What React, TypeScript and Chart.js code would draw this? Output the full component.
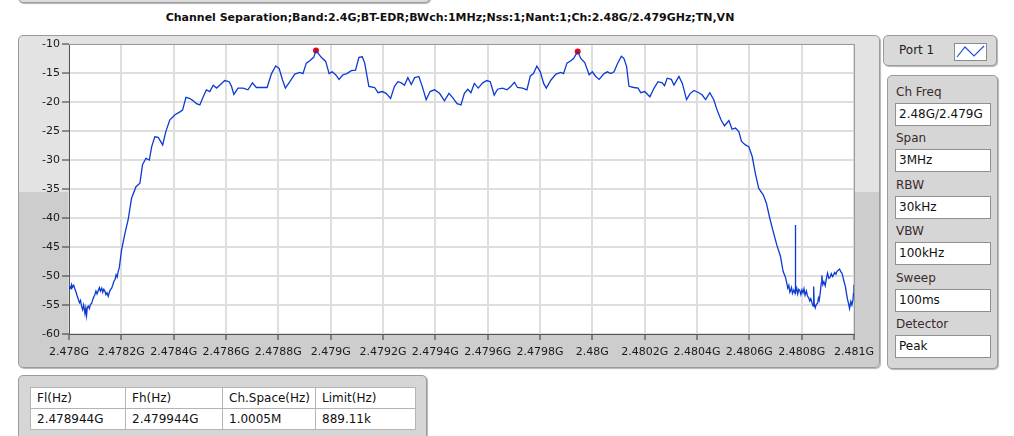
import React, { useEffect, useRef } from 'react';
import { Chart, registerables } from 'chart.js';

Chart.register(...registerables);

const chartTitle = 'Channel Separation;Band:2.4G;BT-EDR;BWch:1MHz;Nss:1;Nant:1;Ch:2.48G/2.479GHz;TN,VN';

// x axis: frequency offset from 2.478 GHz, in kHz
const xTickValues = [0, 200, 400, 600, 800, 1000, 1200, 1400, 1600, 1800, 2000, 2200, 2400, 2600, 2800, 3000];
const xTickLabels = ['2.478G', '2.4782G', '2.4784G', '2.4786G', '2.4788G', '2.479G', '2.4792G', '2.4794G', '2.4796G', '2.4798G', '2.48G', '2.4802G', '2.4804G', '2.4806G', '2.4808G', '2.481G'];
const yMin = -60;
const yMax = -10;
const yStep = 5;

const freqKHz = [
  0, 4, 8, 10, 14, 18, 23, 27, 31, 36, 40, 44, 48, 52, 56, 61, 64, 67, 70, 74, 78, 82, 87, 91, 95, 99,
  103, 107, 112, 116, 120, 125, 129, 133, 137, 141, 145, 150, 154, 158, 163, 167, 171, 176, 180, 184, 188, 192, 196,
  201, 214, 226, 239, 256, 271, 281, 294, 307, 316, 328, 341, 358, 370, 385, 405, 424, 434, 447, 462, 475, 487,
  500, 513, 525, 538, 551, 564, 576, 595, 612, 621, 630, 646, 665, 684, 701, 716, 735, 757, 774, 790, 803, 816,
  827, 844, 863, 882, 894, 907, 920, 935, 944, 964, 981, 994, 1006, 1019, 1032, 1047, 1062, 1079, 1095, 1108,
  1121, 1130, 1146, 1168, 1181, 1197, 1212, 1229, 1244, 1257, 1270, 1282, 1295, 1308, 1321, 1337, 1350, 1365,
  1380, 1397, 1416, 1435, 1452, 1467, 1483, 1498, 1511, 1524, 1536, 1549, 1564, 1581, 1597, 1610, 1625, 1638,
  1657, 1674, 1689, 1702, 1714, 1733, 1750, 1763, 1775, 1788, 1801, 1814, 1824, 1842, 1861, 1880, 1890, 1903,
  1918, 1928, 1944, 1956, 1971, 1988, 2000, 2013, 2026, 2045, 2058, 2070, 2083, 2096, 2111, 2121, 2131, 2140,
  2159, 2175, 2185, 2200, 2220, 2236, 2251, 2267, 2276, 2286, 2302, 2312, 2331, 2344, 2360, 2373, 2388, 2407,
  2420, 2433, 2449, 2464, 2477, 2492, 2505, 2522, 2534, 2547, 2560, 2570, 2585, 2598, 2611, 2623, 2636, 2653,
  2665, 2678, 2691, 2706, 2719, 2729, 2738, 2742, 2747, 2751, 2755, 2757, 2761, 2765, 2770, 2775, 2776, 2777,
  2781, 2785, 2789, 2793, 2797, 2801, 2805, 2809, 2813, 2818, 2822, 2827, 2831, 2835, 2840, 2844, 2846, 2848,
  2852, 2856, 2861, 2864, 2867, 2871, 2875, 2877, 2881, 2885, 2890, 2894, 2899, 2904, 2909, 2913, 2918, 2922,
  2926, 2931, 2935, 2940, 2945, 2950, 2954, 2958, 2962, 2967, 2971, 2975, 2979, 2983, 2988, 2992, 2996, 2998, 3000,
];

const levelDb = [
  -52.4, -51.8, -52.2, -51.5, -51.9, -51.6, -52.3, -52.8, -53.4, -54.1, -54.6, -54.2, -55.2, -55.8, -55.0, -56.5, -55.6, -56.8, -55.4, -55.2, -55.6, -54.9, -54.7, -54.0, -53.6, -53.2,
  -52.6, -53.1, -52.5, -52.0, -52.6, -52.1, -52.8, -52.3, -52.6, -53.2, -52.9, -53.5, -52.8, -52.4, -52.1, -51.6, -51.0, -50.6, -49.8, -50.2, -49.2, -48.6, -47.2,
  -45.5, -42.6, -40.3, -36.6, -34.6, -34.0, -30.8, -29.7, -30.0, -27.7, -26.0, -26.1, -27.4, -25.1, -23.1, -22.2, -21.7, -21.4, -19.2, -19.4, -19.8, -20.3,
  -20.5, -19.1, -17.9, -18.2, -17.1, -17.6, -17.1, -16.3, -16.5, -17.3, -18.7, -17.6, -17.6, -17.9, -16.7, -17.5, -17.5, -17.5, -15.1, -13.8, -14.2, -16.2,
  -17.6, -16.5, -15.2, -14.9, -15.1, -13.3, -12.9, -12.3, -11.1, -12.3, -13.0, -15.1, -14.8, -15.3, -16.1, -15.3, -15.1, -14.6, -14.5, -12.3,
  -12.2, -13.3, -17.3, -17.5, -18.4, -18.2, -18.5, -19.4, -17.3, -16.5, -16.7, -17.1, -15.8, -17.0, -15.8, -15.6, -17.3, -19.6,
  -18.2, -17.9, -18.5, -19.8, -18.5, -19.3, -20.3, -20.5, -18.5, -17.8, -18.4, -16.8, -17.6, -16.7, -16.3, -16.5, -18.8, -17.8,
  -17.6, -17.9, -17.3, -16.6, -17.5, -17.6, -17.9, -15.5, -15.1, -13.8, -14.8, -16.8, -17.6, -16.2, -15.2, -14.9, -15.1, -13.3,
  -12.9, -12.5, -11.3, -12.5, -13.2, -15.3, -14.8, -15.6, -16.1, -15.1, -14.8, -15.1, -14.8, -13.4, -12.1, -12.5, -13.9, -17.3,
  -17.5, -17.6, -18.4, -18.2, -19.1, -17.6, -16.5, -16.7, -17.2, -15.9, -16.1, -17.1, -15.6, -16.8, -19.6, -18.6, -18.0, -18.4,
  -18.8, -19.6, -18.4, -19.6, -21.4, -23.1, -24.1, -23.2, -24.7, -24.5, -25.1, -26.8, -27.4, -27.7, -29.4, -32.3, -34.9, -36.0,
  -37.4, -40.0, -42.3, -44.8, -46.6, -49.2, -50.2, -51.0, -52.1, -51.6, -52.8, -52.6, -52.0, -53.0, -52.4, -53.0, -41.2, -52.8,
  -52.1, -53.1, -52.3, -52.5, -53.2, -52.4, -52.9, -52.2, -53.3, -52.6, -53.4, -53.8, -54.3, -53.9, -54.7, -55.2, -51.8, -54.8,
  -55.5, -54.9, -54.7, -53.8, -54.2, -52.9, -51.2, -49.9, -51.5, -51.0, -51.7, -50.6, -49.5, -50.4, -50.2, -49.6, -50.1, -49.8,
  -49.4, -49.7, -49.2, -49.0, -48.8, -49.3, -49.5, -50.2, -51.0, -51.8, -52.9, -54.0, -54.7, -55.6, -54.4, -55.0, -54.1, -53.0, -51.5,
];

const peakFreqKHz = [944, 1944];
const peakLevelDb = [-11.1, -11.3];

const settingLabels = ['Ch Freq', 'Span', 'RBW', 'VBW', 'Sweep', 'Detector'];
const settingValues = ['2.48G/2.479G', '3MHz', '30kHz', '100kHz', '100ms', 'Peak'];

const tableHeaders = ['Fl(Hz)', 'Fh(Hz)', 'Ch.Space(Hz)', 'Limit(Hz)'];
const tableValues = ['2.478944G', '2.479944G', '1.0005M', '889.11k'];
const tableColWidths = [95, 97, 93, 100];

const FONT = '"DejaVu Sans", Tahoma, sans-serif';

const plotBackground = {
  id: 'plotBackground',
  beforeDraw(chart: any) {
    const { ctx, chartArea: a } = chart;
    ctx.save();
    ctx.fillStyle = '#ffffff';
    ctx.fillRect(a.left, a.top, a.right - a.left, a.bottom - a.top);
    ctx.restore();
  },
  afterDraw(chart: any) {
    const { ctx, chartArea: a } = chart;
    ctx.save();
    ctx.strokeStyle = '#9a9a9a';
    ctx.lineWidth = 1;
    ctx.beginPath();
    ctx.moveTo(a.left, a.top + 0.5);
    ctx.lineTo(a.right + 0.5, a.top + 0.5);
    ctx.lineTo(a.right + 0.5, a.bottom);
    ctx.stroke();
    ctx.restore();
  },
};

function SpectrumChart() {
  const ref = useRef<HTMLCanvasElement | null>(null);
  useEffect(() => {
    if (!ref.current) return;
    const tickFont = { family: FONT, size: 11 };
    const chart = new Chart(ref.current, {
      type: 'line',
      data: {
        datasets: [
          {
            data: freqKHz.map((x, i) => ({ x, y: levelDb[i] })),
            borderColor: '#0c3ad4',
            borderWidth: 1.3,
            pointRadius: 0,
            tension: 0,
            fill: false,
          },
          {
            data: peakFreqKHz.map((x, i) => ({ x, y: peakLevelDb[i] })),
            showLine: false,
            pointRadius: 3,
            pointBackgroundColor: '#ff0000',
            pointBorderColor: '#ff0000',
            pointBorderWidth: 0,
          },
        ],
      },
      options: {
        animation: false,
        responsive: false,
        maintainAspectRatio: false,
        devicePixelRatio: 1,
        layout: { padding: { top: 9, right: 24, left: 0, bottom: 0 } },
        plugins: { legend: { display: false }, tooltip: { enabled: false }, title: { display: false } },
        scales: {
          x: {
            type: 'linear',
            min: xTickValues[0],
            max: xTickValues[xTickValues.length - 1],
            afterBuildTicks: (s: any) => {
              s.ticks = xTickValues.map((v) => ({ value: v }));
            },
            afterFit: (s: any) => {
              s.height = 34;
            },
            ticks: {
              autoSkip: false,
              maxRotation: 0,
              minRotation: 0,
              color: '#1a1a1a',
              font: tickFont,
              padding: 6,
              callback: (_v: any, i: number) => xTickLabels[i],
            },
            grid: { color: '#dedede', lineWidth: 2, tickColor: '#333', tickWidth: 1, tickLength: 6 },
            border: { display: true, color: '#555', width: 1 },
          },
          y: {
            min: yMin,
            max: yMax,
            afterBuildTicks: (s: any) => {
              const t = [];
              for (let v = yMin; v <= yMax; v += yStep) t.push({ value: v });
              s.ticks = t;
            },
            afterFit: (s: any) => {
              s.width = 51;
            },
            ticks: { color: '#1a1a1a', font: tickFont, padding: 2 },
            grid: { color: '#dedede', lineWidth: 2, tickColor: '#333', tickWidth: 1, tickLength: 7 },
            border: { display: true, color: '#555', width: 1 },
          },
        },
      },
      plugins: [plotBackground],
    } as any);
    return () => chart.destroy();
  }, []);
  return (
    <canvas
      ref={ref}
      width={862}
      height={333}
      style={{ position: 'absolute', left: 18, top: 35, width: 862, height: 333 }}
    />
  );
}

function LegendIcon() {
  return (
    <svg width={33} height={18} style={{ position: 'absolute', left: 70, top: 7 }}>
      <rect x={0.5} y={0.5} width={32} height={17} fill="#ffffff" stroke="#8a8a8a" />
      <polyline points="3,14 11,4 20,13 30,3" fill="none" stroke="#2050e0" strokeWidth={1.2} />
    </svg>
  );
}

export default function App() {
  const panelStyle: React.CSSProperties = {
    position: 'absolute',
    boxSizing: 'border-box',
    border: '1px solid #9b9b9b',
    borderRadius: 5,
    boxShadow: '1px 1px 1px #b5b5b5',
  };
  return (
    <div
      style={{
        position: 'absolute',
        left: 0,
        top: 0,
        width: 1014,
        height: 436,
        overflow: 'hidden',
        background: '#ffffff',
        fontFamily: FONT,
      }}
    >
      {/* clipped element above */}
      <div style={{ ...panelStyle, left: 18, top: -22, width: 412, height: 25, background: '#dcdcdc' }} />

      {/* title */}
      <div
        style={{
          position: 'absolute',
          left: 0,
          top: 11,
          width: 900,
          textAlign: 'center',
          fontWeight: 'bold',
          fontSize: 11,
          color: '#111',
          whiteSpace: 'nowrap',
        }}
      >
        {chartTitle}
      </div>

      {/* graph frame */}
      <div
        style={{
          ...panelStyle,
          left: 18,
          top: 35,
          width: 862,
          height: 333,
          background: 'linear-gradient(to bottom, #e3e3e3 0px, #e3e3e3 156px, #cdcdcd 156px, #cdcdcd 100%)',
        }}
      />
      <SpectrumChart />

      {/* Port panel */}
      <div
        style={{
          ...panelStyle,
          left: 883,
          top: 35,
          width: 114,
          height: 31,
          background: '#d9d9d9',
        }}
      >
        <div style={{ position: 'absolute', left: 15, top: 7, fontSize: 12, color: '#222' }}>Port 1</div>
        <LegendIcon />
      </div>

      {/* settings panel */}
      <div
        style={{
          ...panelStyle,
          left: 887,
          top: 75,
          width: 111,
          height: 294,
          background: '#d6d6d6',
        }}
      >
        {settingLabels.map((lab, i) => (
          <React.Fragment key={lab}>
            <div
              style={{
                position: 'absolute',
                left: 8,
                top: 9 + i * 46.4,
                fontSize: 12,
                color: '#3a2a2a',
              }}
            >
              {lab}
            </div>
            <div
              style={{
                position: 'absolute',
                boxSizing: 'border-box',
                left: 7,
                top: 27 + i * 46.4,
                width: 96,
                height: 23,
                background: '#ffffff',
                border: '1px solid #8f8f8f',
                fontSize: 12,
                color: '#111',
                paddingLeft: 3,
                lineHeight: '21px',
              }}
            >
              {settingValues[i]}
            </div>
          </React.Fragment>
        ))}
      </div>

      {/* result table panel */}
      <div
        style={{
          ...panelStyle,
          left: 18,
          top: 375,
          width: 409,
          height: 80,
          background: '#d6d6d6',
        }}
      >
        <table
          style={{
            position: 'absolute',
            left: 11,
            top: 11,
            borderCollapse: 'collapse',
            background: '#ffffff',
            border: '1px solid #8a8a8a',
            fontSize: 12,
            color: '#111',
            fontFamily: FONT,
          }}
        >
          <tbody>
            <tr>
              {tableHeaders.map((h, i) => (
                <td
                  key={h}
                  style={{
                    width: tableColWidths[i],
                    height: 21,
                    padding: '0 0 0 6px',
                    border: '1px solid #b4b4b4',
                    boxSizing: 'border-box',
                    whiteSpace: 'nowrap',
                  }}
                >
                  {h}
                </td>
              ))}
            </tr>
            <tr>
              {tableValues.map((v, i) => (
                <td
                  key={v}
                  style={{
                    width: tableColWidths[i],
                    height: 21,
                    padding: '0 0 0 6px',
                    border: '1px solid #b4b4b4',
                    boxSizing: 'border-box',
                    whiteSpace: 'nowrap',
                  }}
                >
                  {v}
                </td>
              ))}
            </tr>
          </tbody>
        </table>
      </div>
    </div>
  );
}
